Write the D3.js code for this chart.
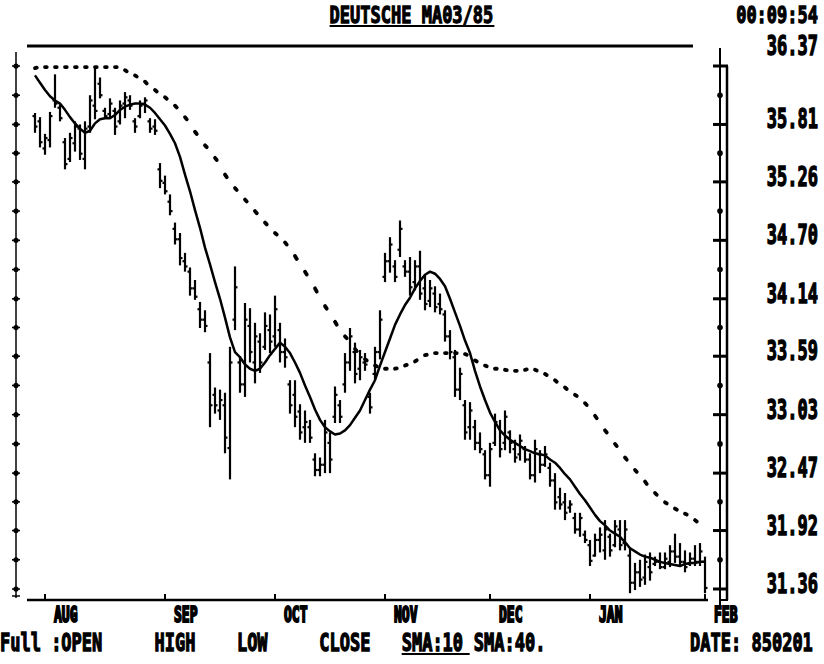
<!DOCTYPE html>
<html>
<head>
<meta charset="utf-8">
<script src="https://cdn.jsdelivr.net/npm/d3@7"></script>
<style>
  html, body { margin: 0; padding: 0; background: #fff; }
  svg { display: block; }
  text { font-family: "DejaVu Sans Mono", "Liberation Mono", monospace; font-weight: bold; fill: #000; }
</style>
</head>
<body>
<svg id="chart" width="824" height="664"></svg>
<script>
// Daily bars, one per trading day (Aug 1984 - Feb 1985)
const highs = [
  35.92, 35.88, 35.72, 35.93, 36.29, 36.00, 35.68, 35.73, 35.84, 35.81,
  35.84, 36.09, 36.36, 36.26, 35.97, 36.06, 35.97, 36.04, 36.12, 36.09,
  35.87, 36.04, 36.07, 35.87, 35.86, 35.44, 35.32, 35.14, 34.87, 34.77,
  34.58, 34.44, 34.32, 34.11, 34.03, 33.62, 33.29, 33.27, 33.24, 33.68,
  34.45, 33.59, 34.10, 34.05, 33.91, 33.81, 34.01, 33.99, 34.17, 33.91,
  33.76, 33.36, 33.36, 33.13, 33.07, 32.98, 32.66, 32.62, 32.98, 32.86,
  33.30, 33.17, 33.62, 33.86, 33.72, 33.65, 33.62, 33.24, 33.68, 34.03,
  34.58, 34.73, 34.51, 34.89, 34.51, 34.54, 34.51, 34.60, 34.37, 34.32,
  34.26, 34.19, 34.03, 33.84, 33.65, 33.48, 33.17, 33.15, 32.98, 32.86,
  32.69, 32.76, 33.04, 32.98, 33.07, 32.88, 32.79, 32.84, 32.73, 32.66,
  32.79, 32.69, 32.73, 32.57, 32.47, 32.33, 32.28, 32.21, 32.09, 32.09,
  31.92, 31.83, 31.89, 31.95, 32.02, 31.89, 32.02, 32.02, 32.02, 31.76,
  31.61, 31.64, 31.69, 31.71, 31.67, 31.71, 31.71, 31.78, 31.89, 31.80,
  31.73, 31.71, 31.78, 31.80, 31.67
];
const lows = [
  35.73, 35.59, 35.52, 35.59, 35.97, 35.84, 35.38, 35.45, 35.55, 35.47,
  35.38, 35.73, 35.86, 36.06, 35.87, 35.87, 35.71, 35.81, 35.87, 35.95,
  35.73, 35.87, 35.92, 35.73, 35.71, 35.20, 35.14, 34.94, 34.66, 34.46,
  34.40, 34.17, 34.13, 33.86, 33.82, 32.91, 33.04, 32.98, 32.66, 32.41,
  33.84, 33.24, 33.20, 33.53, 33.33, 33.43, 33.65, 33.62, 33.68, 33.53,
  33.48, 33.04, 32.91, 32.79, 32.76, 32.76, 32.44, 32.44, 32.47, 32.47,
  32.95, 32.95, 33.24, 33.45, 33.33, 33.36, 33.45, 33.04, 33.36, 33.56,
  34.30, 34.39, 34.30, 34.54, 34.35, 34.17, 34.22, 34.13, 34.03, 34.06,
  34.01, 33.99, 33.73, 33.56, 33.20, 33.17, 32.79, 32.79, 32.69, 32.66,
  32.41, 32.34, 32.73, 32.62, 32.69, 32.66, 32.57, 32.59, 32.57, 32.41,
  32.38, 32.47, 32.53, 32.34, 32.12, 32.12, 32.02, 32.09, 31.89, 31.86,
  31.80, 31.58, 31.67, 31.71, 31.64, 31.67, 31.76, 31.73, 31.73, 31.32,
  31.35, 31.38, 31.40, 31.44, 31.58, 31.55, 31.55, 31.57, 31.61, 31.58,
  31.52, 31.58, 31.58, 31.58, 31.32
];
const opens = [
  35.89, 35.84, 35.58, 35.66, 36.04, 35.97, 35.64, 35.48, 35.63, 35.77,
  35.48, 35.79, 35.99, 36.20, 35.94, 35.91, 35.94, 35.84, 36.01, 36.04,
  35.84, 35.89, 36.01, 35.84, 35.79, 35.38, 35.25, 35.07, 34.81, 34.71,
  34.50, 34.40, 34.24, 34.04, 33.94, 33.53, 33.22, 33.07, 33.12, 32.71,
  33.94, 33.53, 33.32, 33.88, 33.53, 33.73, 33.68, 33.84, 33.78, 33.84,
  33.63, 33.32, 33.22, 33.06, 32.91, 32.91, 32.60, 32.50, 32.55, 32.76,
  33.01, 33.12, 33.32, 33.53, 33.63, 33.47, 33.53, 33.20, 33.42, 33.63,
  34.35, 34.50, 34.45, 34.61, 34.45, 34.40, 34.30, 34.45, 34.24, 34.12,
  34.19, 34.09, 33.99, 33.78, 33.58, 33.27, 33.12, 32.91, 32.91, 32.76,
  32.65, 32.45, 32.76, 32.91, 32.76, 32.86, 32.70, 32.65, 32.70, 32.60,
  32.45, 32.65, 32.55, 32.52, 32.40, 32.24, 32.19, 32.14, 32.04, 31.93,
  31.88, 31.78, 31.68, 31.83, 31.73, 31.86, 31.78, 31.93, 31.80, 31.68,
  31.42, 31.52, 31.47, 31.57, 31.60, 31.62, 31.57, 31.62, 31.72, 31.67,
  31.62, 31.60, 31.65, 31.62, 31.62
];
const closes = [
  35.79, 35.64, 35.68, 35.89, 36.01, 35.87, 35.43, 35.68, 35.79, 35.53,
  35.77, 36.04, 35.94, 36.09, 35.89, 36.01, 35.79, 35.99, 36.07, 35.99,
  35.79, 35.99, 36.04, 35.77, 35.75, 35.27, 35.17, 34.98, 34.71, 34.53,
  34.45, 34.24, 34.16, 33.94, 33.88, 33.12, 33.12, 33.17, 32.81, 33.53,
  34.25, 33.32, 33.94, 33.63, 33.78, 33.53, 33.88, 33.73, 34.04, 33.63,
  33.58, 33.12, 33.01, 32.86, 32.96, 32.81, 32.50, 32.55, 32.86, 32.60,
  33.22, 33.01, 33.53, 33.78, 33.42, 33.58, 33.51, 33.10, 33.63, 33.94,
  34.50, 34.66, 34.35, 34.81, 34.40, 34.25, 34.45, 34.19, 34.09, 34.24,
  34.06, 34.04, 33.78, 33.63, 33.27, 33.42, 32.86, 33.07, 32.76, 32.70,
  32.45, 32.70, 32.96, 32.70, 33.01, 32.76, 32.62, 32.78, 32.60, 32.45,
  32.70, 32.55, 32.65, 32.40, 32.19, 32.17, 32.09, 32.17, 31.93, 32.04,
  31.83, 31.63, 31.83, 31.88, 31.93, 31.73, 31.96, 31.78, 31.93, 31.42,
  31.52, 31.45, 31.62, 31.52, 31.62, 31.57, 31.65, 31.72, 31.67, 31.62,
  31.57, 31.65, 31.62, 31.72, 31.37
];
// 10-day simple moving average (solid line)
const sma10 = [
  36.28, 36.21, 36.14, 36.08, 36.04, 36.01, 35.95, 35.88, 35.82, 35.77,
  35.73, 35.75, 35.82, 35.86, 35.87, 35.87, 35.90, 35.95, 35.98, 36.00,
  36.01, 36.01, 36.00, 35.97, 35.92, 35.86, 35.80, 35.72, 35.63, 35.50,
  35.33, 35.17, 34.99, 34.82, 34.63, 34.47, 34.30, 34.14, 33.96, 33.77,
  33.63, 33.58, 33.51, 33.47, 33.45, 33.47, 33.53, 33.60, 33.66, 33.72,
  33.68, 33.62, 33.53, 33.43, 33.31, 33.20, 33.08, 32.98, 32.91, 32.87,
  32.84, 32.85, 32.88, 32.93, 33.00, 33.07, 33.17, 33.27, 33.36, 33.50,
  33.63, 33.76, 33.89, 33.99, 34.08, 34.15, 34.24, 34.31, 34.37, 34.40,
  34.38, 34.33, 34.26, 34.14, 34.01, 33.88, 33.74, 33.62, 33.45, 33.30,
  33.17, 33.05, 32.96, 32.88, 32.83, 32.79, 32.76, 32.73, 32.70, 32.68,
  32.66, 32.65, 32.64, 32.60, 32.57, 32.52, 32.46, 32.41, 32.34, 32.27,
  32.21, 32.14, 32.07, 32.01, 31.97, 31.92, 31.89, 31.86, 31.81, 31.75,
  31.72, 31.69, 31.67, 31.66, 31.64, 31.62, 31.61, 31.60, 31.59, 31.58,
  31.60, 31.61, 31.61, 31.62, 31.62
];
// 40-day simple moving average (dotted line)
const sma40 = [
  36.35, 36.36, 36.36, 36.36, 36.36, 36.36, 36.36, 36.36, 36.36, 36.36,
  36.36, 36.36, 36.36, 36.36, 36.36, 36.36, 36.36, 36.36, 36.33, 36.30,
  36.28, 36.25, 36.22, 36.17, 36.14, 36.10, 36.07, 36.03, 35.99, 35.94,
  35.88, 35.82, 35.74, 35.68, 35.61, 35.56, 35.49, 35.43, 35.33, 35.26,
  35.20, 35.15, 35.09, 35.04, 34.98, 34.92, 34.87, 34.82, 34.77, 34.73,
  34.68, 34.62, 34.55, 34.47, 34.40, 34.32, 34.24, 34.15, 34.07, 34.00,
  33.92, 33.84, 33.78, 33.73, 33.66, 33.60, 33.56, 33.53, 33.50, 33.48,
  33.47, 33.47, 33.47, 33.48, 33.50, 33.52, 33.54, 33.57, 33.60, 33.61,
  33.62, 33.62, 33.62, 33.62, 33.62, 33.62, 33.61, 33.59, 33.55, 33.52,
  33.50, 33.48, 33.47, 33.47, 33.46, 33.45, 33.45, 33.45, 33.46, 33.47,
  33.46, 33.44, 33.42, 33.39, 33.36, 33.32, 33.29, 33.25, 33.22, 33.19,
  33.14, 33.09, 33.02, 32.95, 32.88, 32.82, 32.75, 32.69, 32.62, 32.56,
  32.50, 32.45, 32.39, 32.32, 32.28, 32.23, 32.19, 32.16, 32.13, 32.10,
  32.08, 32.06, 32.02, 31.98, 31.94
];
// Month names and the trading-day index on which each month begins
const months = ["AUG", "SEP", "OCT", "NOV", "DEC", "JAN", "FEB"];
const monthStart = [2, 26, 48, 70, 91, 111, 134];
// Price scale labels
const priceTicks = [36.37, 35.81, 35.26, 34.70, 34.14, 33.59, 33.03, 32.47, 31.92, 31.36];

const titleText = "DEUTSCHE MA03/85";
const clockText = "00:09:54";
const dateText = "DATE: 850201";
const legendItems = ["Full :OPEN", "HIGH", "LOW", "CLOSE", "SMA:10", "SMA:40."];
const legendCols = [0, 15, 23, 31, 39, 46];

const svg = d3.select("#chart");
const ink = "#000";
const CELL = 10.3; // width of one character column

const x = d3.scaleLinear().domain([0, highs.length - 1]).range([35, 705]);
const y = d3.scaleLinear().domain([31.36, 36.37]).range([589, 66]);

function txt(str, px, py, sy, anchor, size, weight) {
  return svg.append("text")
    .attr("transform", `translate(${px},${py}) scale(1,${sy})`)
    .attr("font-size", size || 17)
    .attr("text-anchor", anchor || "start")
    .attr("stroke", ink)
    .attr("stroke-width", weight || 0.9)
    .text(str);
}

// ---- title row ----
txt(titleText, 32 * CELL, 23, 1.4);
svg.append("line").attr("x1", 32 * CELL).attr("x2", 48 * CELL)
  .attr("y1", 26).attr("y2", 26).attr("stroke", ink).attr("stroke-width", 2);
txt(clockText, 818, 23, 1.4, "end");

// ---- frame top rule ----
svg.append("line").attr("x1", 27).attr("x2", 693).attr("y1", 46).attr("y2", 46)
  .attr("stroke", ink).attr("stroke-width", 3);

// half-step positions between the labelled prices
const halfTicks = d3.range(priceTicks.length - 1).map(i => (priceTicks[i] + priceTicks[i + 1]) / 2);
const allTicks = priceTicks.concat(halfTicks);

// ---- left axis ----
svg.append("line").attr("x1", 16).attr("x2", 16).attr("y1", 52).attr("y2", 598)
  .attr("stroke", ink).attr("stroke-width", 1.5);
svg.append("g").selectAll("circle").data(allTicks).join("circle")
  .attr("cx", 16).attr("cy", d => y(d)).attr("r", 2.6).attr("fill", ink);
svg.append("g").selectAll("line").data(allTicks).join("line")
  .attr("x1", 12).attr("x2", 20).attr("y1", d => y(d)).attr("y2", d => y(d))
  .attr("stroke", ink).attr("stroke-width", 1.5);
svg.append("line").attr("x1", 12).attr("x2", 20).attr("y1", 596).attr("y2", 596)
  .attr("stroke", ink).attr("stroke-width", 1.5);

// ---- right price axis (double rule) ----
const yTop = y(priceTicks[0]);
svg.append("line").attr("x1", 720).attr("x2", 720).attr("y1", 48).attr("y2", 606)
  .attr("stroke", ink).attr("stroke-width", 2);
svg.append("line").attr("x1", 727).attr("x2", 727).attr("y1", yTop).attr("y2", 600)
  .attr("stroke", ink).attr("stroke-width", 2.5);
svg.append("line").attr("x1", 720).attr("x2", 728).attr("y1", 600).attr("y2", 600)
  .attr("stroke", ink).attr("stroke-width", 2);
svg.append("g").selectAll("line").data(priceTicks).join("line")
  .attr("x1", 713).attr("x2", 728).attr("y1", d => y(d)).attr("y2", d => y(d))
  .attr("stroke", ink).attr("stroke-width", 3);
svg.append("g").selectAll("circle").data(halfTicks).join("circle")
  .attr("cx", 720).attr("cy", d => y(d)).attr("r", 2.8).attr("fill", ink);
// the top price sits just under the clock; the rest straddle their ticks
priceTicks.forEach((v, i) => txt(v.toFixed(2), 818, i === 0 ? 55 : y(v) + 4, 1.6, "end"));

// ---- time axis ----
svg.append("line").attr("x1", 27).attr("x2", 708).attr("y1", 600).attr("y2", 600)
  .attr("stroke", ink).attr("stroke-width", 2.5);
svg.append("g").selectAll("line").data(monthStart).join("line")
  .attr("x1", d => x(d)).attr("x2", d => x(d)).attr("y1", 594).attr("y2", 600)
  .attr("stroke", ink).attr("stroke-width", 2);
months.forEach((m, i) => txt(m, x(monthStart[i]) + 9, 622, 1.6, "start", 13, 1.3));

// ---- OHLC bars ----
const bars = svg.append("g").attr("stroke", ink).attr("stroke-width", 2.2);
highs.forEach((h, i) => {
  const cx = x(i);
  bars.append("line").attr("x1", cx).attr("x2", cx).attr("y1", y(h)).attr("y2", y(lows[i]));
  bars.append("line").attr("x1", cx - 2.5).attr("x2", cx).attr("y1", y(opens[i])).attr("y2", y(opens[i]));
  bars.append("line").attr("x1", cx).attr("x2", cx + 2.5).attr("y1", y(closes[i])).attr("y2", y(closes[i]));
});

// ---- 10-day average: solid ----
svg.append("path")
  .attr("d", d3.line().x((d, i) => x(i)).y(d => y(d))(sma10))
  .attr("fill", "none").attr("stroke", ink).attr("stroke-width", 2.5)
  .attr("stroke-linejoin", "round");

// ---- 40-day average: a short dash on every other day ----
const dots = svg.append("g").attr("stroke", ink).attr("stroke-width", 3.8)
  .attr("stroke-linecap", "round");
sma40.forEach((v, i) => {
  if (i % 2 !== 0 || i >= sma40.length - 1) return;
  const x0 = x(i), y0 = y(v), x1 = x(i + 1), y1 = y(sma40[i + 1]);
  dots.append("line").attr("x1", x0).attr("y1", y0)
    .attr("x2", x0 + (x1 - x0) * 0.35).attr("y2", y0 + (y1 - y0) * 0.35);
});

// ---- bottom legend row ----
legendItems.forEach((s, i) => txt(s, legendCols[i] * CELL, 651, 1.5));
svg.append("line").attr("x1", 39 * CELL).attr("x2", 45.6 * CELL)
  .attr("y1", 654).attr("y2", 654).attr("stroke", ink).attr("stroke-width", 2);
txt(dateText, 67 * CELL, 651, 1.5);
</script>
</body>
</html>
